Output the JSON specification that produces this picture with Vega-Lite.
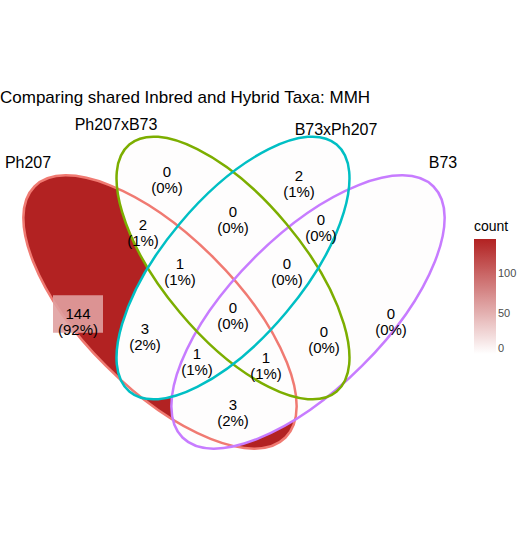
{
  "$schema": "https://vega.github.io/schema/vega-lite/v6.json",
  "width": 526,
  "height": 554,
  "autosize": "none",
  "padding": 0,
  "config": {"view": {"stroke": null}, "font": "Liberation Sans"},
  "datasets": {
    "sets": [
      {"name": "Ph207", "x": 160, "y": 312, "angle": 45, "size": 126000, "count": 144, "stroke": "#F07A72"},
      {"name": "B73", "x": 308, "y": 312, "angle": -45, "size": 126000, "count": 1, "stroke": "#C77CFF"},
      {"name": "Ph207xB73", "x": 233, "y": 268, "angle": 50, "size": 104000, "count": 1, "stroke": "#7CAE00"},
      {"name": "B73xPh207", "x": 233, "y": 268, "angle": -50, "size": 104000, "count": 1, "stroke": "#00BFC4"}
    ],
    "regions": [
      {"x": 167, "y": 172, "label": "0\n(0%)"},
      {"x": 299, "y": 176, "label": "2\n(1%)"},
      {"x": 233, "y": 212, "label": "0\n(0%)"},
      {"x": 143, "y": 225, "label": "2\n(1%)"},
      {"x": 321, "y": 220, "label": "0\n(0%)"},
      {"x": 180, "y": 264, "label": "1\n(1%)"},
      {"x": 287, "y": 264, "label": "0\n(0%)"},
      {"x": 78, "y": 314, "label": "144\n(92%)"},
      {"x": 233, "y": 308, "label": "0\n(0%)"},
      {"x": 145, "y": 329, "label": "3\n(2%)"},
      {"x": 391, "y": 314, "label": "0\n(0%)"},
      {"x": 324, "y": 332, "label": "0\n(0%)"},
      {"x": 197, "y": 354, "label": "1\n(1%)"},
      {"x": 266, "y": 358, "label": "1\n(1%)"},
      {"x": 233, "y": 405, "label": "3\n(2%)"}
    ],
    "names": [
      {"x": 28, "y": 163, "label": "Ph207"},
      {"x": 116, "y": 125, "label": "Ph207xB73"},
      {"x": 336, "y": 130, "label": "B73xPh207"},
      {"x": 443, "y": 163, "label": "B73"}
    ]
  },
  "encoding": {
    "x": {"field": "x", "type": "quantitative", "scale": {"domain": [0, 526]}, "axis": null},
    "y": {"field": "y", "type": "quantitative", "scale": {"domain": [554, 0]}, "axis": null}
  },
  "layer": [
    {
      "data": {"name": "sets"},
      "mark": {"type": "point", "filled": true, "opacity": 1, "shape": "M-1,0A1,0.43 0 1,0 1,0A1,0.43 0 1,0 -1,0Z"},
      "encoding": {
        "angle": {"field": "angle", "type": "quantitative", "scale": null},
        "size": {"field": "size", "type": "quantitative", "scale": null},
        "color": {
          "field": "count", "type": "quantitative",
          "scale": {"domain": [0, 144], "range": ["#ffffff", "#B22222"], "interpolate": "rgb"},
          "legend": {
            "title": "count", "orient": "none", "legendX": 474, "legendY": 220,
            "gradientLength": 115, "gradientThickness": 22, "values": [0, 50, 100],
            "titleFontSize": 14, "titleFontWeight": "normal", "labelFontSize": 11, "labelColor": "#4d4d4d"
          }
        }
      }
    },
    {
      "data": {"name": "sets"},
      "mark": {"type": "point", "filled": false, "strokeWidth": 2.5, "opacity": 1, "shape": "M-1,0A1,0.43 0 1,0 1,0A1,0.43 0 1,0 -1,0Z"},
      "encoding": {
        "angle": {"field": "angle", "type": "quantitative", "scale": null},
        "size": {"field": "size", "type": "quantitative", "scale": null},
        "stroke": {"field": "stroke", "type": "nominal", "scale": null}
      }
    },
    {
      "data": {"values": [{"x": 78, "y": 314}]},
      "mark": {"type": "point", "filled": true, "color": "#E0A0A0", "opacity": 0.9, "shape": "M-1,-0.75H1V0.75H-1Z", "size": 2500}
    },
    {
      "data": {"name": "regions"},
      "mark": {"type": "text", "fontSize": 15, "lineBreak": "\n", "lineHeight": 16, "baseline": "middle"},
      "encoding": {"text": {"field": "label"}}
    },
    {
      "data": {"name": "names"},
      "mark": {"type": "text", "fontSize": 16, "align": "center", "baseline": "middle"},
      "encoding": {"text": {"field": "label"}}
    },
    {
      "data": {"values": [{"x": 0, "y": 98, "label": "Comparing shared Inbred and Hybrid Taxa: MMH"}]},
      "mark": {"type": "text", "fontSize": 17, "align": "left", "baseline": "middle"},
      "encoding": {"text": {"field": "label"}}
    }
  ]
}
